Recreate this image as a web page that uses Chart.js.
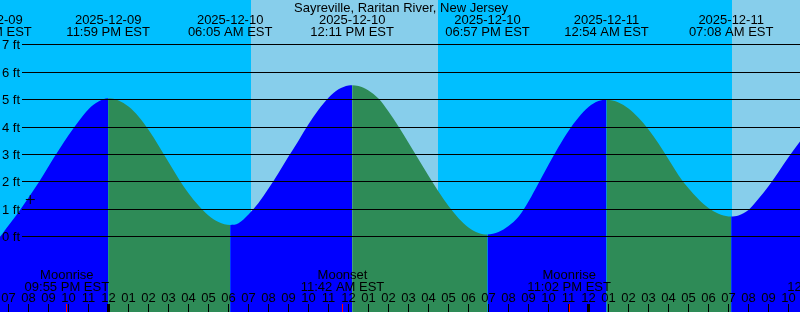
<!DOCTYPE html>
<html>
<head>
<meta charset="utf-8">
<script src="https://cdn.jsdelivr.net/npm/chart.js@4/dist/chart.umd.min.js"></script>
<style>
  html, body { margin: 0; padding: 0; background: #00BFFF; }
  #wrap { width: 800px; height: 312px; }
</style>
</head>
<body>
<div id="wrap"><canvas id="c" width="800" height="312"></canvas></div>
<script>
// ---- data (hours measured from 2025-12-10 00:00 EST) ----
const stationName = 'Sayreville, Raritan River, New Jersey';

const tideTimes = [
  -5.95, -5.5, -5.0, -4.5, -4.0, -3.5, -3.0, -2.5, -2.0, -1.5, -1.0, -0.5, -0.017,
  0.5, 1.0, 1.5, 2.0, 2.5, 3.0, 3.5, 4.0, 4.5, 5.0, 5.5, 6.083,
  6.5, 7.0, 7.5, 8.0, 8.5, 9.0, 9.5, 10.0, 10.5, 11.0, 11.5, 12.0, 12.183,
  12.5, 13.0, 13.5, 14.0, 14.5, 15.0, 15.5, 16.0, 16.5, 17.0, 17.5, 18.0, 18.5, 18.95,
  19.5, 20.0, 20.5, 21.0, 21.5, 22.0, 22.5, 23.0, 23.5, 24.0, 24.5, 24.9,
  25.5, 26.0, 26.5, 27.0, 27.5, 28.0, 28.5, 29.0, 29.5, 30.0, 30.5, 31.0, 31.133,
  31.5, 32.0, 32.5, 33.0, 33.5, 34.0, 34.5, 35.0, 36.0, 37.5];
const tideHeights = [
  -0.30, -0.07, 0.40, 0.89, 1.42, 1.96, 2.56, 3.14, 3.70, 4.20, 4.65, 4.93, 5.05,
  4.97, 4.75, 4.39, 3.90, 3.33, 2.72, 2.12, 1.58, 1.13, 0.77, 0.53, 0.42,
  0.48, 0.80, 1.22, 1.75, 2.32, 2.92, 3.50, 4.10, 4.63, 5.07, 5.38, 5.52, 5.53,
  5.50, 5.34, 5.04, 4.57, 4.02, 3.43, 2.82, 2.22, 1.64, 1.11, 0.67, 0.33, 0.13, 0.07,
  0.16, 0.38, 0.72, 1.28, 1.95, 2.62, 3.27, 3.86, 4.35, 4.73, 4.95, 5.00,
  4.90, 4.68, 4.34, 3.91, 3.40, 2.82, 2.24, 1.76, 1.36, 1.04, 0.83, 0.735, 0.73,
  0.77, 0.97, 1.38, 1.84, 2.36, 2.90, 3.40, 3.90, 4.70, 5.35];

const extremeTimes = [-5.95, -0.017, 6.083, 12.183, 18.95, 24.9, 31.133];
const extremeDates = ['2025-12-09', '2025-12-09', '2025-12-10', '2025-12-10', '2025-12-10', '2025-12-11', '2025-12-11'];
const extremeClock = ['06:03 PM EST', '11:59 PM EST', '06:05 AM EST', '12:11 PM EST', '06:57 PM EST', '12:54 AM EST', '07:08 AM EST'];

const sunriseTimes = [7.12, 31.15];
const sunsetTimes = [16.47, 40.48];

const moonTimes = [-2.083, 11.7, 23.033, 36.05];
const moonEvents = ['Moonrise', 'Moonset', 'Moonrise', 'Moonset'];
const moonClock = ['09:55 PM EST', '11:42 AM EST', '11:02 PM EST', '12:03 PM EST'];

const nowTime = [-3.91];
const nowHeight = [1.35];

const heightTicks = [0, 1, 2, 3, 4, 5, 6, 7];
const heightTickLabels = ['0 ft', '1 ft', '2 ft', '3 ft', '4 ft', '5 ft', '6 ft', '7 ft'];

// ---- styling ----
const NIGHT = '#00BFFF', DAY = '#87CEEB', FLOOD = '#0000FF', EBB = '#2E8B57';
const FONT = '13px "Liberation Sans", Arial, sans-serif';

const tidePoints = tideTimes.map((t, i) => ({ x: t, y: tideHeights[i] }));
const nowPoints = nowTime.map((t, i) => ({ x: t, y: nowHeight[i] }));

function hourLabel(h) {
  const m = ((h % 12) + 12) % 12;
  return m === 0 ? '12' : String(m).padStart(2, '0');
}

const decor = {
  id: 'tideDecor',
  beforeDraw(chart) {
    const { ctx, chartArea: a, scales: { x } } = chart;
    ctx.save();
    ctx.fillStyle = NIGHT;
    ctx.fillRect(0, 0, chart.width, chart.height);
    ctx.fillStyle = DAY;
    for (let i = 0; i < sunriseTimes.length; i++) {
      const x0 = Math.round(x.getPixelForValue(sunriseTimes[i]));
      const x1 = Math.round(x.getPixelForValue(sunsetTimes[i]));
      ctx.fillRect(x0, a.top, x1 - x0, a.bottom - a.top);
    }
    ctx.restore();
  },
  afterDatasetsDraw(chart) {
    const { ctx, chartArea: a, scales: { x, y } } = chart;
    ctx.save();
    ctx.font = FONT;
    ctx.fillStyle = '#000';
    ctx.strokeStyle = '#000';
    ctx.lineWidth = 1;

    // height grid + labels
    heightTicks.forEach((v, i) => {
      const py = Math.floor(y.getPixelForValue(v)) + 0.5;
      ctx.beginPath();
      ctx.moveTo(22, py);
      ctx.lineTo(a.right, py);
      ctx.stroke();
      ctx.textAlign = 'right';
      ctx.textBaseline = 'alphabetic';
      ctx.fillText(heightTickLabels[i], 20, py + 4.5);
    });

    // title
    ctx.textAlign = 'center';
    ctx.textBaseline = 'alphabetic';
    ctx.fillText(stationName, 401, 12);

    // extreme labels
    extremeTimes.forEach((t, i) => {
      const px = x.getPixelForValue(t);
      ctx.fillText(extremeDates[i], px, 24);
      ctx.fillText(extremeClock[i], px, 36);
    });

    // hour ticks and labels
    const h0 = Math.ceil(x.min), h1 = Math.floor(x.max);
    for (let h = h0; h <= h1; h++) {
      const px = Math.floor(x.getPixelForValue(h));
      const midnight = ((h % 24) + 24) % 24 === 0;
      ctx.fillStyle = '#000';
      if (midnight) ctx.fillRect(px - 1, 304, 3, 8);
      else ctx.fillRect(px, 304, 1, 8);
      ctx.fillText(hourLabel(h), px + 0.5, 302);
    }

    // moon events
    moonTimes.forEach((t, i) => {
      const px = x.getPixelForValue(t);
      ctx.fillStyle = '#FF0000';
      ctx.fillRect(Math.floor(px), 304, 1, 8);
      ctx.fillStyle = '#000';
      ctx.fillText(moonEvents[i], px, 279);
      ctx.fillText(moonClock[i], px, 291);
    });

    ctx.restore();
  }
};

new Chart(document.getElementById('c'), {
  type: 'line',
  data: {
    datasets: [
      {
        data: nowPoints,
        showLine: false,
        pointStyle: 'cross',
        pointRadius: 4.5,
        pointBorderColor: '#000',
        pointBorderWidth: 1,
        clip: false,
        order: 0
      },
      {
        data: tidePoints,
        cubicInterpolationMode: 'monotone',
        borderWidth: 0,
        borderColor: 'rgba(0,0,0,0)',
        pointRadius: 0,
        fill: 'start',
        backgroundColor: FLOOD,
        segment: {
          backgroundColor: c => (c.p1.parsed.y >= c.p0.parsed.y ? FLOOD : EBB)
        },
        order: 1
      }
    ]
  },
  options: {
    responsive: false,
    devicePixelRatio: 1,
    animation: false,
    events: [],
    layout: { padding: 0, autoPadding: false },
    plugins: { legend: { display: false }, tooltip: { enabled: false }, title: { display: false } },
    scales: {
      x: { type: 'linear', min: -5.425, max: 34.575, display: false },
      y: { type: 'linear', min: -2.76, max: 8.644, display: false }
    }
  },
  plugins: [decor]
});
</script>
</body>
</html>
